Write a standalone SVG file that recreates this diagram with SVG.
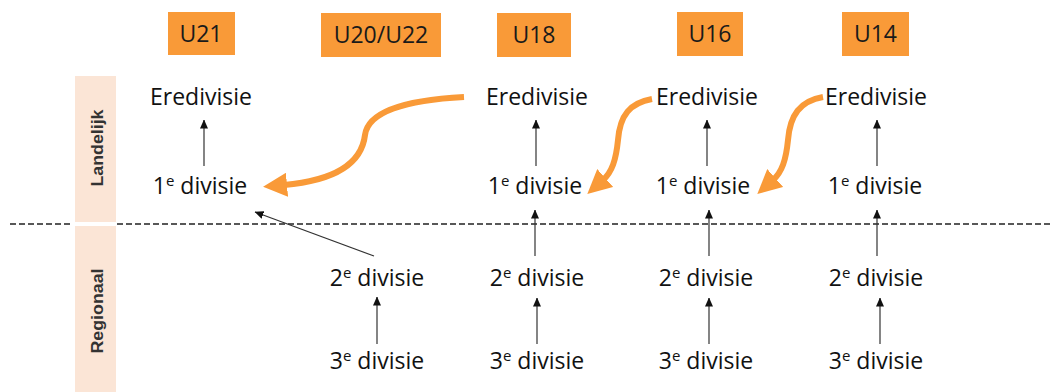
<svg xmlns="http://www.w3.org/2000/svg" width="1053" height="392" viewBox="0 0 1053 392">
<style>
.box{fill:#F99A38}
.bt{font-family:"Open Sans","Noto Sans",sans-serif;font-size:23px;fill:#1a1a1a;text-anchor:middle}
.lbl{font-family:"Open Sans","Noto Sans",sans-serif;font-size:23px;fill:#111;text-anchor:middle}
.sup{font-size:15px}
.band{fill:#FBE5D6}
.bandt{font-family:"Liberation Sans","Open Sans",sans-serif;font-size:16px;font-weight:bold;fill:#333;text-anchor:middle}
.thin{stroke:#333;stroke-width:1.2;fill:none;marker-end:url(#ah)}
.thick{stroke:#F99A38;stroke-width:6;fill:none;marker-end:url(#oh);stroke-linecap:butt}
.dash{stroke:#222;stroke-width:1.5;stroke-dasharray:6 3}
</style>
<defs>
<marker id="ah" markerUnits="userSpaceOnUse" markerWidth="9" markerHeight="8" viewBox="0 0 9 8" refX="8.5" refY="4" orient="auto">
<path d="M0,0 L9,4 L0,8 z" fill="#111"/>
</marker>
<marker id="oh" markerUnits="userSpaceOnUse" markerWidth="24" markerHeight="24" viewBox="0 0 24 24" refX="3" refY="12" orient="auto">
<path d="M0,0 L24,12 L0,24 z" fill="#F99A38"/>
</marker>
</defs>
<rect width="1053" height="392" fill="#fff"/>

<g id="band-landelijk">
<rect class="band" x="75" y="76" width="41" height="146"/>
<text class="bandt" transform="translate(103,148) rotate(-90)" textLength="77" lengthAdjust="spacingAndGlyphs">Landelijk</text>
</g>
<g id="band-regionaal">
<rect class="band" x="75" y="226" width="41" height="166"/>
<text class="bandt" transform="translate(103,311) rotate(-90)" textLength="85" lengthAdjust="spacingAndGlyphs">Regionaal</text>
</g>

<g id="separator">
<line class="dash" x1="10" y1="224" x2="72" y2="224"/>
<line class="dash" x1="117" y1="224" x2="1053" y2="224"/>
</g>

<g id="hdr-u21"><rect class="box" x="168" y="12" width="67" height="43"/><text class="bt" x="201" y="42">U21</text></g>
<g id="hdr-u20u22"><rect class="box" x="321" y="13" width="120" height="44"/><text class="bt" x="381" y="43">U20/U22</text></g>
<g id="hdr-u18"><rect class="box" x="497" y="13" width="74" height="44"/><text class="bt" x="534" y="43">U18</text></g>
<g id="hdr-u16"><rect class="box" x="677" y="12" width="66" height="44"/><text class="bt" x="710" y="42">U16</text></g>
<g id="hdr-u14"><rect class="box" x="842" y="12" width="67" height="44"/><text class="bt" x="875.5" y="42">U14</text></g>

<g id="u21-ere"><text class="lbl" x="201" y="105">Eredivisie</text></g>
<g id="u21-1e"><text class="lbl" x="200" y="194">1<tspan class="sup" dy="-8">e</tspan><tspan dy="8"> divisie</tspan></text></g>

<g id="u2022-2e"><text class="lbl" x="377" y="286">2<tspan class="sup" dy="-8">e</tspan><tspan dy="8"> divisie</tspan></text></g>
<g id="u2022-3e"><text class="lbl" x="377" y="369">3<tspan class="sup" dy="-8">e</tspan><tspan dy="8"> divisie</tspan></text></g>

<g id="u18-ere"><text class="lbl" x="537" y="105">Eredivisie</text></g>
<g id="u18-1e"><text class="lbl" x="535" y="194">1<tspan class="sup" dy="-8">e</tspan><tspan dy="8"> divisie</tspan></text></g>
<g id="u18-2e"><text class="lbl" x="537" y="286">2<tspan class="sup" dy="-8">e</tspan><tspan dy="8"> divisie</tspan></text></g>
<g id="u18-3e"><text class="lbl" x="537" y="369">3<tspan class="sup" dy="-8">e</tspan><tspan dy="8"> divisie</tspan></text></g>

<g id="u16-ere"><text class="lbl" x="707" y="105">Eredivisie</text></g>
<g id="u16-1e"><text class="lbl" x="703" y="194">1<tspan class="sup" dy="-8">e</tspan><tspan dy="8"> divisie</tspan></text></g>
<g id="u16-2e"><text class="lbl" x="706" y="286">2<tspan class="sup" dy="-8">e</tspan><tspan dy="8"> divisie</tspan></text></g>
<g id="u16-3e"><text class="lbl" x="706" y="369">3<tspan class="sup" dy="-8">e</tspan><tspan dy="8"> divisie</tspan></text></g>

<g id="u14-ere"><text class="lbl" x="876" y="105">Eredivisie</text></g>
<g id="u14-1e"><text class="lbl" x="875" y="194">1<tspan class="sup" dy="-8">e</tspan><tspan dy="8"> divisie</tspan></text></g>
<g id="u14-2e"><text class="lbl" x="876" y="286">2<tspan class="sup" dy="-8">e</tspan><tspan dy="8"> divisie</tspan></text></g>
<g id="u14-3e"><text class="lbl" x="876" y="369">3<tspan class="sup" dy="-8">e</tspan><tspan dy="8"> divisie</tspan></text></g>

<g id="connectors">
<line class="thin" x1="204" y1="166" x2="204" y2="120"/>
<line class="thin" x1="536" y1="166" x2="536" y2="120"/>
<line class="thin" x1="707" y1="166" x2="707" y2="120"/>
<line class="thin" x1="877" y1="166" x2="877" y2="120"/>
<line class="thin" x1="535" y1="256" x2="535" y2="210"/>
<line class="thin" x1="709" y1="256" x2="709" y2="210"/>
<line class="thin" x1="877" y1="256" x2="877" y2="210"/>
<line class="thin" x1="377" y1="344" x2="377" y2="297"/>
<line class="thin" x1="537" y1="344" x2="537" y2="298"/>
<line class="thin" x1="709" y1="344" x2="709" y2="298"/>
<line class="thin" x1="880" y1="344" x2="880" y2="298"/>
<line class="thin" x1="374" y1="256" x2="255" y2="212"/>
<path class="thick" d="M464,97 C405,100 368,112 365,135 C362,160 340,180 284,185"/>
<path class="thick" d="M652,99 C630,103 620,115 618,140 C616,160 612,172 603,180"/>
<path class="thick" d="M823,97 C800,101 790,115 788,140 C786,160 782,172 773,180"/>
</g>
</svg>
